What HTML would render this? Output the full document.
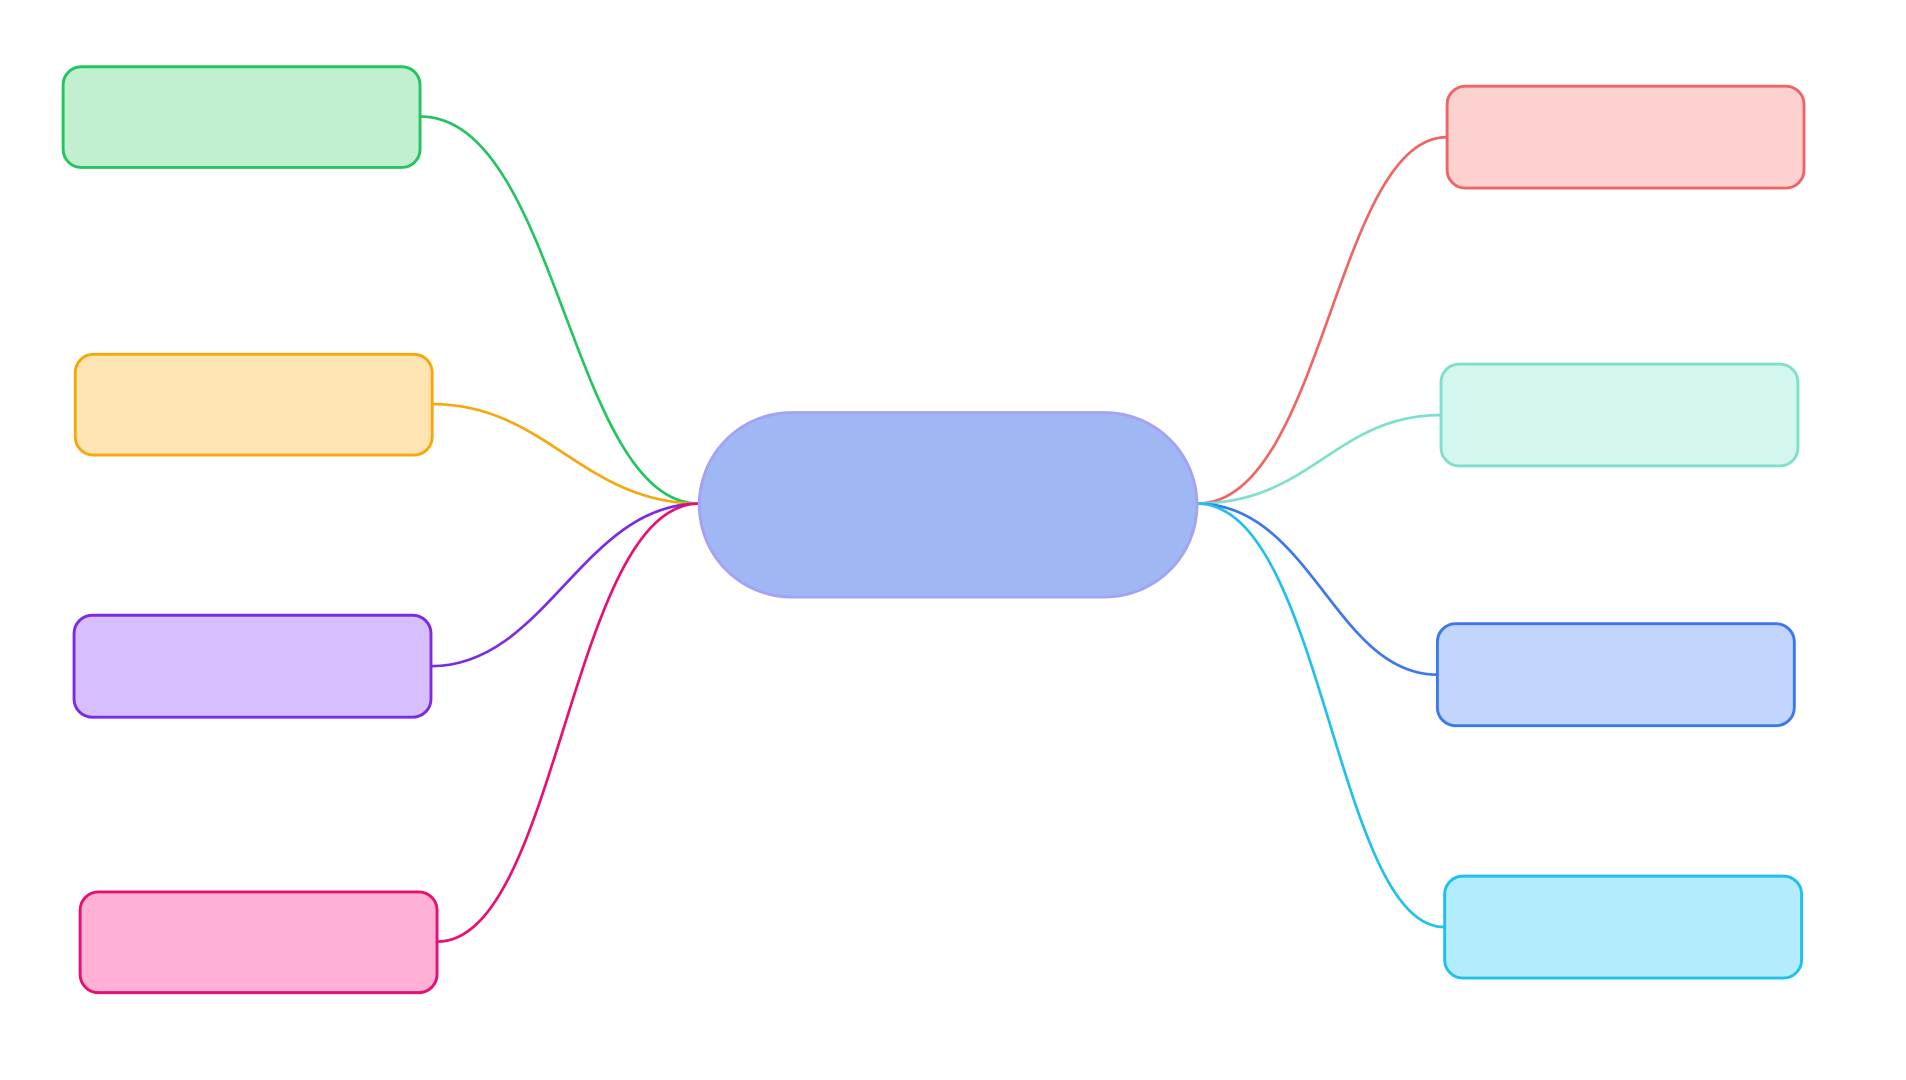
<!DOCTYPE html>
<html><head><meta charset="utf-8"><style>
html,body{margin:0;padding:0;background:#fff;width:1906px;height:1080px;overflow:hidden}
svg{display:block}
</style></head><body>
<svg width="1906" height="1080" viewBox="0 0 1570 890" preserveAspectRatio="none" xmlns="http://www.w3.org/2000/svg">
<g fill="none" stroke-width="2.2">
<path d="M576,415 C470,415 460,96 346,96" stroke="#22c55e"/>
<path d="M576,415 C480,415 450,333 356,333" stroke="#f5a70c"/>
<path d="M576,415 C480,415 450,549 355,549" stroke="#7c2be3"/>
<path d="M576,415 C470,415 460,776 360,776" stroke="#e80f72"/>
<path d="M986,415 C1090,415 1100,113 1192,113" stroke="#ef6464"/>
<path d="M986,415 C1080,415 1100,342 1187,342" stroke="#7ddfcc"/>
<path d="M986,415 C1080,415 1100,556 1184,556" stroke="#3b78ee"/>
<path d="M986,415 C1090,415 1100,764 1190,764" stroke="#1fbfee"/>
</g>
<g stroke-width="2.4">
<rect x="576" y="340" width="410" height="152" rx="76" fill="#9fb8f4" stroke="#a4a2f4"/>
<rect x="52" y="55" width="294" height="83" rx="15" fill="#c1efd0" stroke="#22c55e"/>
<rect x="62" y="292" width="294" height="83" rx="15" fill="#fde4b3" stroke="#f5a70c"/>
<rect x="61" y="507" width="294" height="84" rx="15" fill="#d7befd" stroke="#7c2be3"/>
<rect x="66" y="735" width="294" height="83" rx="15" fill="#feb1d4" stroke="#e80f72"/>
<rect x="1192" y="71" width="294" height="84" rx="15" fill="#fed1d1" stroke="#ef6464"/>
<rect x="1187" y="300" width="294" height="84" rx="15" fill="#d3f6ef" stroke="#7ddfcc"/>
<rect x="1184" y="514" width="294" height="84" rx="15" fill="#c1d5fd" stroke="#3b78ee"/>
<rect x="1190" y="722" width="294" height="84" rx="15" fill="#b3ecfd" stroke="#1fbfee"/>
</g>
</svg>
</body></html>
